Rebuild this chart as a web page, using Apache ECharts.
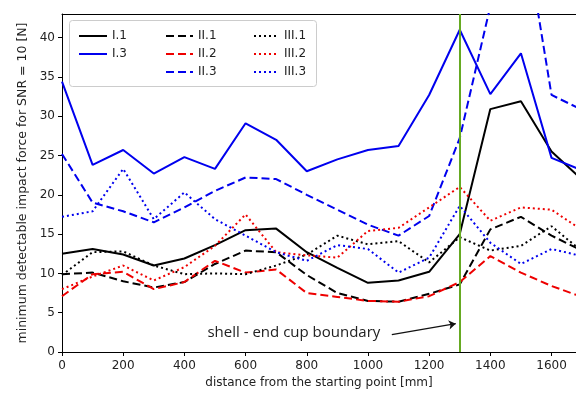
<!DOCTYPE html>
<html>
<head>
<meta charset="utf-8">
<script src="https://cdn.jsdelivr.net/npm/echarts@6/dist/echarts.min.js"></script>
<style>
  html, body { margin: 0; padding: 0; background: #fff; }
  #chart { width: 576px; height: 394px; }
</style>
</head>
<body>
<div id="chart"></div>
<script>
// distance from the starting point [mm]
var distance = [0, 100, 200, 300, 400, 500, 600, 700, 800, 900, 1000, 1100, 1200, 1300, 1400, 1500, 1600, 1700];

var I1   = [12.5, 13.1, 12.4, 11.0, 11.9, 13.6, 15.5, 15.7, 12.7, 10.7, 8.8, 9.1, 10.2, 15.0, 30.9, 31.9, 25.5, 21.9];
var I3   = [34.4, 23.8, 25.7, 22.7, 24.8, 23.3, 29.1, 27.0, 23.0, 24.5, 25.7, 26.2, 32.7, 41.0, 32.8, 38.0, 24.7, 23.1];
var II1  = [9.9, 10.1, 9.0, 8.2, 8.9, 11.2, 12.9, 12.7, 9.8, 7.5, 6.5, 6.4, 7.4, 8.6, 15.6, 17.2, 14.8, 12.9];
var II2  = [7.1, 9.9, 10.2, 8.0, 8.9, 11.6, 10.1, 10.5, 7.5, 7.0, 6.5, 6.4, 7.1, 8.9, 12.2, 10.1, 8.4, 7.0];
var II3  = [25.2, 19.0, 17.9, 16.5, 18.4, 20.5, 22.2, 22.0, 20.0, 18.1, 16.2, 14.8, 17.3, 27.2, 44.0, 56.5, 32.7, 30.8];
var III1 = [9.8, 12.7, 12.8, 11.0, 9.9, 10.0, 9.9, 11.0, 12.4, 14.8, 13.7, 14.1, 11.4, 14.6, 12.9, 13.5, 16.0, 12.8];
var III2 = [8.0, 9.6, 11.0, 9.1, 10.8, 13.5, 17.5, 12.7, 12.3, 12.0, 15.4, 15.8, 18.4, 21.0, 16.7, 18.4, 18.1, 15.5];
var III3 = [17.2, 17.9, 23.3, 16.9, 20.3, 16.9, 14.8, 12.7, 11.6, 13.6, 13.1, 10.1, 12.0, 18.6, 13.9, 11.2, 13.1, 12.2];

var xTicks = [0, 200, 400, 600, 800, 1000, 1200, 1400, 1600];
var yTicks = [0, 5, 10, 15, 20, 25, 30, 35, 40];

// shell / end cup boundary and its note
var boundaryX = 1300;
var noteText = 'shell - end cup boundary';
var notePos = [758, 2.45];
var arrowFrom = [1078, 2.2];
var arrowTo = [1287, 3.6];

var chart = echarts.init(document.getElementById('chart'));

var FONT = 'DejaVu Sans';
var DASH = [8, 4];
var DOT = [2, 3];

function pairs(ys) {
    return distance.map(function (x, i) { return [x, ys[i]]; });
}

function line(name, ys, color, type) {
    return {
        name: name,
        type: 'line',
        symbol: 'none',
        clip: true,
        data: pairs(ys),
        lineStyle: { color: color, width: 2, type: type },
        itemStyle: { color: color }
    };
}

var series = [
    line('I.1', I1, '#000000', 'solid'),
    line('I.3', I3, '#0000ee', 'solid'),
    line('II.1', II1, '#000000', DASH),
    line('II.2', II2, '#ee0000', DASH),
    line('II.3', II3, '#0000ee', DASH),
    line('III.1', III1, '#000000', DOT),
    line('III.2', III2, '#ee0000', DOT),
    line('III.3', III3, '#0000ee', DOT)
];

series[0].markLine = {
    silent: true,
    symbol: 'none',
    label: { show: false },
    lineStyle: { color: '#66aa22', width: 2, type: 'solid' },
    data: [{ xAxis: boundaryX }]
};
series[1].markLine = {
    silent: true,
    symbol: ['none', 'arrow'],
    symbolSize: 7,
    label: { show: false },
    lineStyle: { color: '#111', width: 1.2, type: 'solid' },
    data: [[{ coord: arrowFrom }, { coord: arrowTo }]]
};
series[2].markPoint = {
    silent: true,
    symbolSize: 0,
    label: {
        show: true,
        formatter: noteText,
        color: '#222',
        fontSize: 15,
        fontFamily: 'Open Sans'
    },
    data: [{ coord: notePos }]
};

var legendText = { fontFamily: FONT, fontSize: 12, color: '#222' };
var legendBase = {
    orient: 'vertical', top: 25, itemHeight: 14, itemGap: 6,
    itemStyle: { opacity: 0 },
    textStyle: legendText
};

function legendCol(left, width, names) {
    return Object.assign({}, legendBase, { left: left, itemWidth: width, data: names });
}

var plain = function (v) { return String(v); };

var option = {
    animation: false,
    backgroundColor: '#fff',
    grid: { left: 62, right: 0, top: 14, bottom: 41 },
    legend: [
        legendCol(73, 28, ['I.1', 'I.3']),
        legendCol(160, 27, ['II.1', 'II.2', 'II.3']),
        legendCol(248, 25, ['III.1', 'III.2', 'III.3'])
    ],
    graphic: [{
        type: 'rect',
        z: 3,
        shape: { x: 69.5, y: 20.5, width: 247, height: 66, r: 3 },
        style: { fill: 'rgba(255,255,255,0.85)', stroke: '#cccccc', lineWidth: 1 }
    }],
    xAxis: [{
        type: 'value',
        min: 0,
        max: 1680,
        name: 'distance from the starting point [mm]',
        nameLocation: 'middle',
        nameGap: 25,
        nameTextStyle: { fontFamily: FONT, fontSize: 12, color: '#222' },
        axisLine: { show: true, lineStyle: { color: '#000', width: 1 } },
        axisTick: { show: true, length: 4, customValues: xTicks, lineStyle: { color: '#000' } },
        axisLabel: { customValues: xTicks, formatter: plain, margin: 8, fontFamily: FONT, fontSize: 12, color: '#222' },
        splitLine: { show: false }
    }, {
        type: 'value',
        position: 'top',
        min: 0,
        max: 1680,
        axisLine: { show: true, onZero: false, lineStyle: { color: '#000', width: 1 } },
        axisTick: { show: false },
        axisLabel: { show: false },
        splitLine: { show: false }
    }],
    yAxis: {
        type: 'value',
        min: 0,
        max: 43,
        name: 'minimum detectable impact force for SNR = 10 [N]',
        nameLocation: 'middle',
        nameGap: 33,
        nameTextStyle: { fontFamily: FONT, fontSize: 12.5, color: '#222' },
        axisLine: { show: true, lineStyle: { color: '#000', width: 1 } },
        axisTick: { show: true, length: 4, customValues: yTicks, lineStyle: { color: '#000' } },
        axisLabel: { customValues: yTicks, formatter: plain, margin: 7, fontFamily: FONT, fontSize: 12, color: '#222' },
        splitLine: { show: false }
    },
    series: series
};

chart.setOption(option);
</script>
</body>
</html>
